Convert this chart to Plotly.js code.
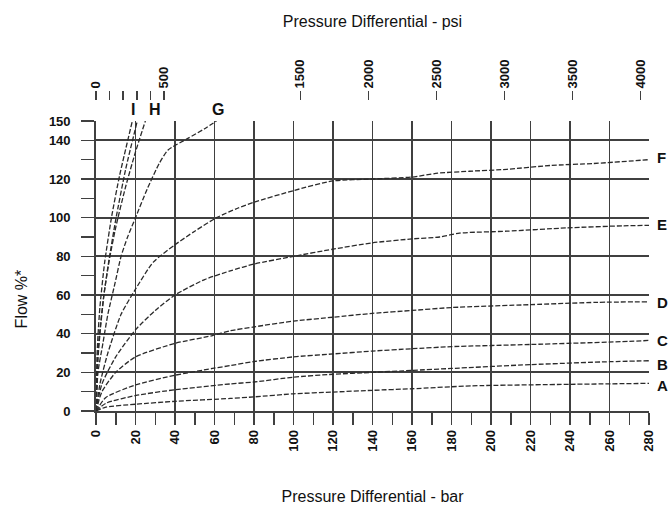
<!DOCTYPE html>
<html>
<head>
<meta charset="utf-8">
<script src="https://cdn.plot.ly/plotly-3.0.1.min.js"></script>
<style>html,body{margin:0;padding:0;background:#fff;}#chart{width:668px;height:511px;}</style>
</head>
<body>
<div id="chart"></div>
<script>
// Pressure differential (bar) and flow (%)
const barI1 = [0, 0.5, 1, 2, 4.4, 8, 12, 18.4];
const flowI1 = [0, 28, 39, 54, 77, 101, 122, 150];
const barI2 = [0, 1, 2, 4, 6.4, 10, 15, 20.9];
const flowI2 = [0, 27, 40, 60, 77, 99, 125, 150];
const barH = [0, 1, 2, 4, 6.7, 10, 15, 20, 25];
const flowH = [0, 30, 42, 60, 78, 95, 116, 134, 150];
const barG = [0, 1, 3.5, 6, 9.6, 12.7, 16, 20, 26, 32, 36.5, 46.5, 55, 61];
const flowG = [0, 20, 35, 50, 66, 80, 90, 100, 115, 128, 135, 141, 146, 150];
const barF = [0, 2, 6, 12.7, 20, 29, 40, 50, 61, 72, 80, 100, 120, 140, 160, 173, 189, 208, 230, 252, 280];
const flowF = [0, 14, 30, 50, 63, 77, 86, 93, 100, 105, 108, 114, 119, 120, 121, 123, 124, 125, 127, 128, 130];
const barE = [0, 3, 10, 20, 30, 40, 55, 68, 80, 100, 120, 140, 160, 174, 184, 208, 238, 267, 280];
const flowE = [0, 14, 28, 42, 52, 60, 68, 72.5, 76, 80, 83.7, 87, 89, 90, 92, 93, 94.7, 95.8, 96];
const barD = [0, 3, 10, 20, 40, 59, 68, 80, 100, 120, 140, 160, 180, 220, 254, 280];
const flowD = [0, 10, 20, 28, 35, 39, 41.5, 43.5, 46.5, 48.5, 50.5, 52, 53.5, 55, 56.2, 56.5];
const barC = [0, 5, 20, 40, 59, 68, 80, 100, 120, 140, 160, 180, 220, 270, 280];
const flowC = [0, 7, 13.5, 18.5, 22, 23.5, 25.6, 28, 29.5, 31, 32.2, 33.3, 34.4, 36, 36.5];
const barB = [0, 5, 20, 40, 68, 80, 100, 120, 140, 160, 180, 220, 260, 280];
const flowB = [0, 4, 8, 11, 14, 15, 17.5, 19, 20, 21, 22, 24, 25.5, 26];
const barA = [0, 5, 20, 40, 68, 80, 100, 120, 140, 160, 190, 240, 280];
const flowA = [0, 2, 3.5, 5, 6.5, 7.3, 8.9, 9.8, 10.7, 11.5, 13, 13.8, 14.3];

const curveNames = ['I', 'I', 'H', 'G', 'F', 'E', 'D', 'C', 'B', 'A'];
const curveX = [barI1, barI2, barH, barG, barF, barE, barD, barC, barB, barA];
const curveY = [flowI1, flowI2, flowH, flowG, flowF, flowE, flowD, flowC, flowB, flowA];

const barTicks = [0, 20, 40, 60, 80, 100, 120, 140, 160, 180, 200, 220, 240, 260, 280];
const flowTicks = [0, 20, 40, 60, 80, 100, 120, 140, 150];
const psiTicks = [0, 100, 200, 300, 400, 500, 1500, 2000, 2500, 3000, 3500, 4000];
const psiLabels = ['0', '', '', '', '', '500', '1500', '2000', '2500', '3000', '3500', '4000'];
const PSI_PER_BAR = 14.5038;

// curve labels: top ones at bar position, right ones at flow level
const topLabels = [{t: 'I', bar: 18.7}, {t: 'H', bar: 29.9}, {t: 'G', bar: 61.8}];
const rightLabels = [{t: 'F', flow: 131}, {t: 'E', flow: 96.5}, {t: 'D', flow: 56}, {t: 'C', flow: 36.7}, {t: 'B', flow: 24.3}, {t: 'A', flow: 13.4}];

const FONT = 'Liberation Sans Narrow, Liberation Sans, Arial, sans-serif';
const GRID = '#404040';

const traces = curveX.map((xs, i) => ({
  x: xs, y: curveY[i], name: curveNames[i], type: 'scatter', mode: 'lines',
  line: {color: '#2a2a2a', width: 1.3, dash: '5px,2px', shape: 'spline', smoothing: 0.6},
  hoverinfo: 'x+y+name', showlegend: false, xaxis: 'x', yaxis: 'y'
}));
// invisible trace to activate the psi axis
traces.push({x: [0, 280 * PSI_PER_BAR], y: [0, 0], xaxis: 'x2', yaxis: 'y', mode: 'markers',
  marker: {opacity: 0}, hoverinfo: 'skip', showlegend: false});

const YDOM = 0.9325;
const annotations = [];
topLabels.forEach(l => annotations.push({x: l.bar / 280, y: 0.968, xref: 'paper', yref: 'paper', text: l.t, showarrow: false,
  xanchor: 'center', yanchor: 'middle',
  font: {family: 'Liberation Sans, Arial, sans-serif', size: 16, color: '#111', weight: 'bold'}}));
rightLabels.forEach(l => annotations.push({x: 1.0105, y: l.flow / 150 * YDOM, xref: 'paper', yref: 'paper', text: l.t, showarrow: false,
  xanchor: 'left', yanchor: 'middle', font: {family: 'Liberation Sans, Arial, sans-serif', size: 15, color: '#111', weight: 'bold'}}));
annotations.push({x: -0.135, y: 0.36, xref: 'paper', yref: 'paper', text: 'Flow %*', textangle: -90, showarrow: false,
  xanchor: 'center', yanchor: 'middle',
  font: {family: 'Liberation Sans, Arial, sans-serif', size: 16, color: '#111'}});

const layout = {
  width: 668, height: 511,
  margin: {l: 96, r: 19, t: 100, b: 100},
  paper_bgcolor: '#fff', plot_bgcolor: '#fff',
  showlegend: false,
  xaxis: {
    range: [0, 280], tickvals: barTicks, ticktext: barTicks.map(String), tickangle: -90,
    showgrid: true, gridcolor: GRID, gridwidth: 1.8,
    showline: true, linecolor: GRID, linewidth: 1.8, zeroline: false,
    ticks: 'outside', ticklen: 12, tickwidth: 1.5, tickcolor: GRID,
    minor: {dtick: 10, tick0: 0, ticks: 'outside', ticklen: 12, tickwidth: 1.5, tickcolor: GRID, showgrid: false},
    tickfont: {family: FONT, size: 13, color: '#111', weight: 'bold'},
    title: {text: 'Pressure Differential - bar', standoff: 40, font: {family: 'Liberation Sans, Arial, sans-serif', size: 16, color: '#111'}}
  },
  xaxis2: {
    overlaying: 'x', side: 'top', anchor: 'free', position: 1,
    range: [0, 280 * PSI_PER_BAR], tickvals: psiTicks, ticktext: psiLabels, tickangle: -90,
    showgrid: false, showline: false, zeroline: false,
    ticks: 'outside', ticklen: 9, tickwidth: 1.5, tickcolor: GRID,
    tickfont: {family: FONT, size: 13, color: '#111', weight: 'bold'},
    title: {text: 'Pressure Differential - psi', standoff: 26, font: {family: 'Liberation Sans, Arial, sans-serif', size: 16, color: '#111'}}
  },
  yaxis: {
    domain: [0, YDOM], range: [0, 150], tickvals: flowTicks, ticktext: flowTicks.map(String),
    showgrid: true, gridcolor: GRID, gridwidth: 1.8,
    showline: true, linecolor: GRID, linewidth: 1.8, zeroline: false,
    ticks: 'outside', ticklen: 13, tickwidth: 1.5, tickcolor: GRID,
    minor: {dtick: 10, tick0: 0, ticks: 'outside', ticklen: 13, tickwidth: 1.5, tickcolor: GRID, showgrid: false},
    ticklabelstandoff: 8,
    tickfont: {family: FONT, size: 13, color: '#111', weight: 'bold'}
  },
  annotations: annotations
};

Plotly.newPlot('chart', traces, layout, {displayModeBar: false, staticPlot: true});
</script>
</body>
</html>
